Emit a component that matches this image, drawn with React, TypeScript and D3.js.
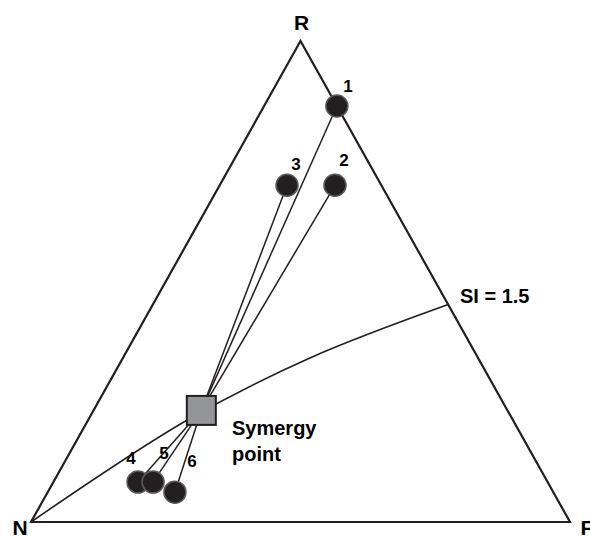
import React from "react";
import * as d3 from "d3";

// Ternary compositions: r = fraction toward R, f = fraction toward F (n = 1 - r - f)
const pointIds = ["1", "2", "3", "4", "5", "6"];
const pointR = [0.865, 0.7, 0.7, 0.083, 0.083, 0.062];
const pointF = [0.135, 0.214, 0.125, 0.157, 0.185, 0.236];

// Label offsets in pixels relative to each point
const labelDx = [11, 9, 9, -7, 11, 17];
const labelDy = [-14, -19, -15, -18, -23, -25];

const synergyR = 0.232;
const synergyF = 0.2;

// SI = 1.5 isoline
const siR = [0, 0.212, 0.341, 0.452];
const siF = [0, 0.184, 0.347, 0.548];

const vertexLabels = ["R", "N", "F"];

const W = 590;
const H = 536;

const x = d3.scaleLinear().domain([0, 1]).range([31, 570]);
const y = d3.scaleLinear().domain([0, 1]).range([522, 41]);

const px = (r: number, f: number) => x(f + r * 0.5);
const py = (r: number) => y(r);

const DARK = "#231f20";
const FONT = "'Liberation Sans', Arial, sans-serif";

export default function App() {
  const tri = [
    [px(1, 0), py(1)],
    [px(0, 0), py(0)],
    [px(0, 1), py(0)],
  ];
  const triPath = d3.line()(tri as [number, number][]) + "Z";

  const siPts = siR.map((r, i) => [px(r, siF[i]), py(r)] as [number, number]);
  const siPath = d3.line().curve(d3.curveCatmullRom.alpha(0.5))(siPts) || "";

  const sx = px(synergyR, synergyF);
  const sy = py(synergyR);
  const sq = 29;

  const pts = pointIds.map((id, i) => ({
    id,
    cx: px(pointR[i], pointF[i]),
    cy: py(pointR[i]),
    dx: labelDx[i],
    dy: labelDy[i],
  }));

  return (
    <svg width={W} height={H} style={{ position: "absolute", left: 0, top: 0 }}>
      <rect width={W} height={H} fill="#fff" />
      <path d={triPath} fill="none" stroke={DARK} strokeWidth={2.2} strokeLinejoin="miter" />
      <path d={siPath} fill="none" stroke={DARK} strokeWidth={1.6} />
      {pts.map((p) => (
        <line key={"l" + p.id} x1={sx} y1={sy} x2={p.cx} y2={p.cy} stroke={DARK} strokeWidth={1.5} />
      ))}
      {pts.map((p) => (
        <circle key={"c" + p.id} cx={p.cx} cy={p.cy} r={11} fill={DARK} stroke="#5a5a5c" strokeWidth={1.5} />
      ))}
      <rect
        x={sx - sq / 2}
        y={sy - sq / 2}
        width={sq}
        height={sq}
        fill="#939598"
        stroke={DARK}
        strokeWidth={2}
      />
      <g fontFamily={FONT} fontWeight="bold" fill="#000">
        {pts.map((p) => (
          <text key={"t" + p.id} x={p.cx + p.dx} y={p.cy + p.dy} fontSize={17} textAnchor="middle">
            {p.id}
          </text>
        ))}
        <text x={px(1, 0) + 1} y={30} fontSize={21} textAnchor="middle">{vertexLabels[0]}</text>
        <text x={20} y={535} fontSize={21} textAnchor="middle">{vertexLabels[1]}</text>
        <text x={587} y={535} fontSize={21} textAnchor="middle">{vertexLabels[2]}</text>
        <text x={460} y={303} fontSize={20}>SI = 1.5</text>
        <text x={232} y={435} fontSize={20}>Symergy</text>
        <text x={232} y={461} fontSize={20}>point</text>
      </g>
    </svg>
  );
}
